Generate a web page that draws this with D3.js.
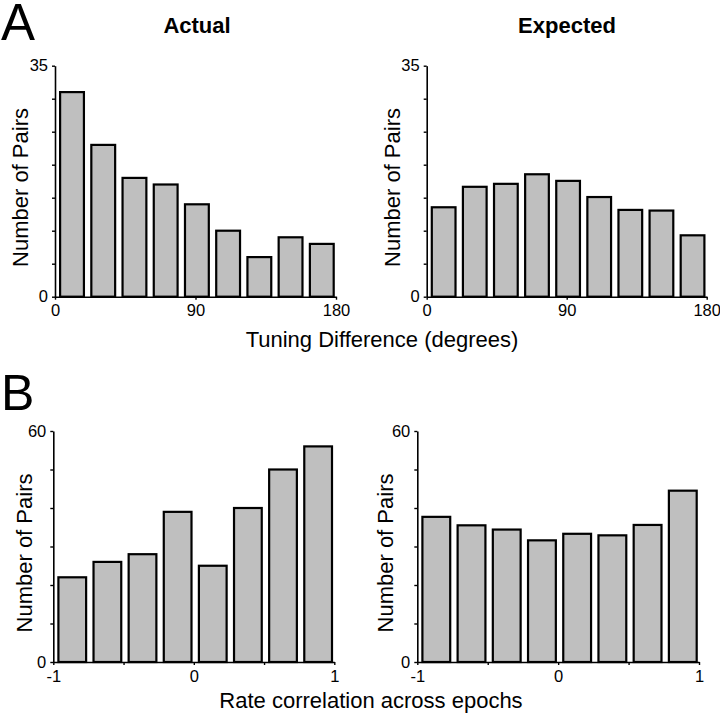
<!DOCTYPE html>
<html>
<head>
<meta charset="utf-8">
<script src="https://cdn.jsdelivr.net/npm/d3@7"></script>
<style>
  html, body { margin: 0; padding: 0; background: #fff; }
  svg { display: block; font-family: "Liberation Sans", Arial, sans-serif; }
</style>
</head>
<body>
<svg id="chart" width="720" height="716"></svg>
<script>
// ---- Data ----
const tuningEdges = [0, 20, 40, 60, 80, 100, 120, 140, 160, 180];
const tuningActual = [31, 23, 18, 17, 14, 10, 6, 9, 8];
const tuningExpected = [13.55, 16.65, 17.1, 18.55, 17.55, 15.1, 13.15, 13.05, 9.3];
const tuningXTicks = [0, 90, 180];
const tuningYTicks = [0, 5, 10, 15, 20, 25, 30, 35];
const tuningYLabels = [0, 35];

const corrEdges = [-1, -0.75, -0.5, -0.25, 0, 0.25, 0.5, 0.75, 1];
const corrActual = [22, 26, 28, 39, 25, 40, 50, 56];
const corrExpected = [37.7, 35.5, 34.4, 31.6, 33.3, 32.9, 35.6, 44.5];
const corrXTicks = [-1, -0.5, 0, 0.5, 1];
const corrXLabels = [-1, 0, 1];
const corrYTicks = [0, 10, 20, 30, 40, 50, 60];
const corrYLabels = [0, 60];

const svg = d3.select("#chart");
const FILL = "#bfbfbf";

function panel(cfg) {
  const x = d3.scaleLinear().domain(cfg.xDomain).range(cfg.xRange);
  const y = d3.scaleLinear().domain(cfg.yDomain).range(cfg.yRange);
  const g = svg.append("g");
  const bins = cfg.values.map((v, i) => ({ lo: cfg.edges[i], hi: cfg.edges[i + 1], v }));
  const sw = 2.2;
  g.selectAll("rect.bar").data(bins).enter().append("rect")
    .attr("class", "bar")
    .attr("x", d => x(d.lo) + 4 + sw / 2)
    .attr("width", d => x(d.hi) - x(d.lo) - 5.2 - sw)
    .attr("y", d => y(d.v))
    .attr("height", d => y(0) - y(d.v))
    .attr("fill", FILL)
    .attr("stroke", "#000")
    .attr("stroke-width", sw);

  const yAxis = d3.axisLeft(y).tickValues(cfg.yTicks).tickSize(3).tickSizeOuter(0).tickPadding(4)
    .tickFormat(d => cfg.yLabels.includes(d) ? String(d) : "");
  const ya = g.append("g").attr("transform", `translate(${cfg.xRange[0]},0)`).call(yAxis);
  const xAxis = d3.axisBottom(x).tickValues(cfg.xTicks).tickSize(3).tickSizeOuter(0).tickPadding(5)
    .tickFormat(d => cfg.xLabels.includes(d) ? String(d) : "");
  const xa = g.append("g").attr("transform", `translate(0,${cfg.yRange[0]})`).call(xAxis);
  [ya, xa].forEach(a => {
    a.selectAll("path.domain").attr("stroke", "#000").attr("stroke-width", 1.6);
    a.selectAll(".tick line").attr("stroke", "#000").attr("stroke-width", 1.4);
    a.selectAll("text").attr("font-size", 16.5).attr("fill", "#000")
      .attr("font-family", '"Liberation Sans", Arial, sans-serif');
  });

  svg.append("text")
    .attr("transform", `translate(${cfg.ylabX},${cfg.ylabY}) rotate(-90)`)
    .attr("text-anchor", "middle")
    .attr("font-size", 22)
    .text("Number of Pairs");
}

panel({ edges: tuningEdges, values: tuningActual, xDomain: [0, 180], yDomain: [0, 35],
  xRange: [55, 336], yRange: [296.7, 65.7], xTicks: tuningXTicks, xLabels: tuningXTicks,
  yTicks: tuningYTicks, yLabels: tuningYLabels, ylabX: 28, ylabY: 187.5 });
panel({ edges: tuningEdges, values: tuningExpected, xDomain: [0, 180], yDomain: [0, 35],
  xRange: [426.7, 706.7], yRange: [296.7, 65.7], xTicks: tuningXTicks, xLabels: tuningXTicks,
  yTicks: tuningYTicks, yLabels: tuningYLabels, ylabX: 400, ylabY: 187.5 });
panel({ edges: corrEdges, values: corrActual, xDomain: [-1, 1], yDomain: [0, 60],
  xRange: [53.3, 334.3], yRange: [662, 431], xTicks: corrXTicks, xLabels: corrXLabels,
  yTicks: corrYTicks, yLabels: corrYLabels, ylabX: 31.5, ylabY: 553 });
panel({ edges: corrEdges, values: corrExpected, xDomain: [-1, 1], yDomain: [0, 60],
  xRange: [417.3, 699], yRange: [662, 431], xTicks: corrXTicks, xLabels: corrXLabels,
  yTicks: corrYTicks, yLabels: corrYLabels, ylabX: 393, ylabY: 553 });

// Titles and labels
svg.append("text").attr("x", 197).attr("y", 33).attr("text-anchor", "middle")
  .attr("font-size", 22).attr("font-weight", "bold").text("Actual");
svg.append("text").attr("x", 567).attr("y", 33).attr("text-anchor", "middle")
  .attr("font-size", 22).attr("font-weight", "bold").text("Expected");
svg.append("text").attr("x", 382).attr("y", 346.7).attr("text-anchor", "middle")
  .attr("font-size", 22).text("Tuning Difference (degrees)");
svg.append("text").attr("x", 371).attr("y", 708.3).attr("text-anchor", "middle")
  .attr("font-size", 22).text("Rate correlation across epochs");
svg.append("text").attr("x", 1).attr("y", 40).attr("font-size", 51).text("A");
svg.append("text").attr("x", 1).attr("y", 409.5).attr("font-size", 50).text("B");
</script>
</body>
</html>
